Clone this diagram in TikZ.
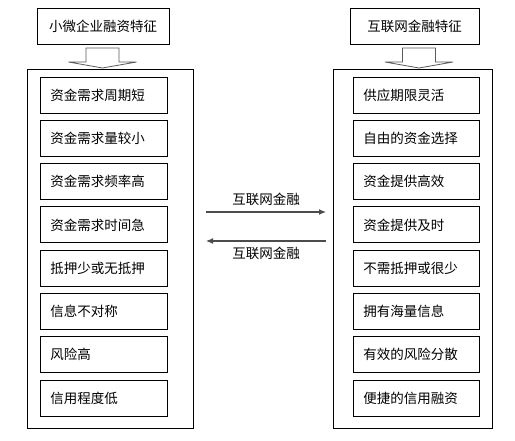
\documentclass[tikz,border=0pt]{standalone}
\usepackage{fontspec}
\setmainfont{Noto Sans CJK SC}
\usetikzlibrary{arrows.meta}

\tikzset{
  cjk/.style={font=\fontsize{13.5}{16}\selectfont},
  titlebox/.style={cjk, draw, line width=0.8pt, minimum height=36pt, inner sep=0pt},
  itembox/.style={cjk, draw, line width=0.8pt, anchor=west, text width=107pt, inner xsep=10pt, inner ysep=0pt, minimum height=36pt, align=left},
  panel/.style={draw, line width=1pt, inner sep=0pt},
  blockarrow/.style={draw=gray!70!black, fill=white, line width=0.8pt, line join=miter},
  flow/.style={draw=gray!60!black, line width=1.2pt, -{Latex[length=7pt,width=6pt]}}
}

\begin{document}
\begin{tikzpicture}[x=1pt, y=-1pt]
    \useasboundingbox (0,0) rectangle (515,441);

    % Titles
    \node[titlebox, minimum width=132pt] (smetitle) at (103,26) {小微企业融资特征};
    \node[titlebox, minimum width=129pt] (nettitle) at (414.5,26) {互联网金融特征};

    % Block arrows under the titles
    \foreach \cx in {102.5, 419} {
        \draw[blockarrow] (\cx-16.5,48) -- (\cx-16.5,62) -- (\cx-34,62) -- (\cx,68)
            -- (\cx+34,62) -- (\cx+16.5,62) -- (\cx+16.5,48) -- cycle;
    }

    % Outer panels
    \node[panel, minimum width=166pt, minimum height=358pt] (smepanel) at (110,249) {};
    \node[panel, minimum width=159pt, minimum height=358pt] (netpanel) at (412.5,249) {};

    % Items, left
    \foreach \t [count=\i] in {资金需求周期短, 资金需求量较小, 资金需求频率高, 资金需求时间急,
        抵押少或无抵押, 信息不对称, 风险高, 信用程度低} {
        \node[itembox] (sme\i) at (40,{95+(\i-1)*43.3}) {\t};
    }

    % Items, right
    \foreach \t [count=\i] in {供应期限灵活, 自由的资金选择, 资金提供高效, 资金提供及时,
        不需抵押或很少, 拥有海量信息, 有效的风险分散, 便捷的信用融资} {
        \node[itembox, text width=106pt] (net\i) at (353,{95+(\i-1)*43.3}) {\t};
    }

    % Arrows between the panels
    \coordinate (ltop) at (206,212);
    \coordinate (rtop) at (326,212);
    \coordinate (lbot) at (206,241);
    \coordinate (rbot) at (326,241);
    \draw[flow] (ltop) -- node[cjk, above=2pt] (toplabel) {互联网金融} (rtop);
    \draw[flow] (rbot) -- node[cjk, below=2pt] (botlabel) {互联网金融} (lbot);
\end{tikzpicture}
\end{document}
